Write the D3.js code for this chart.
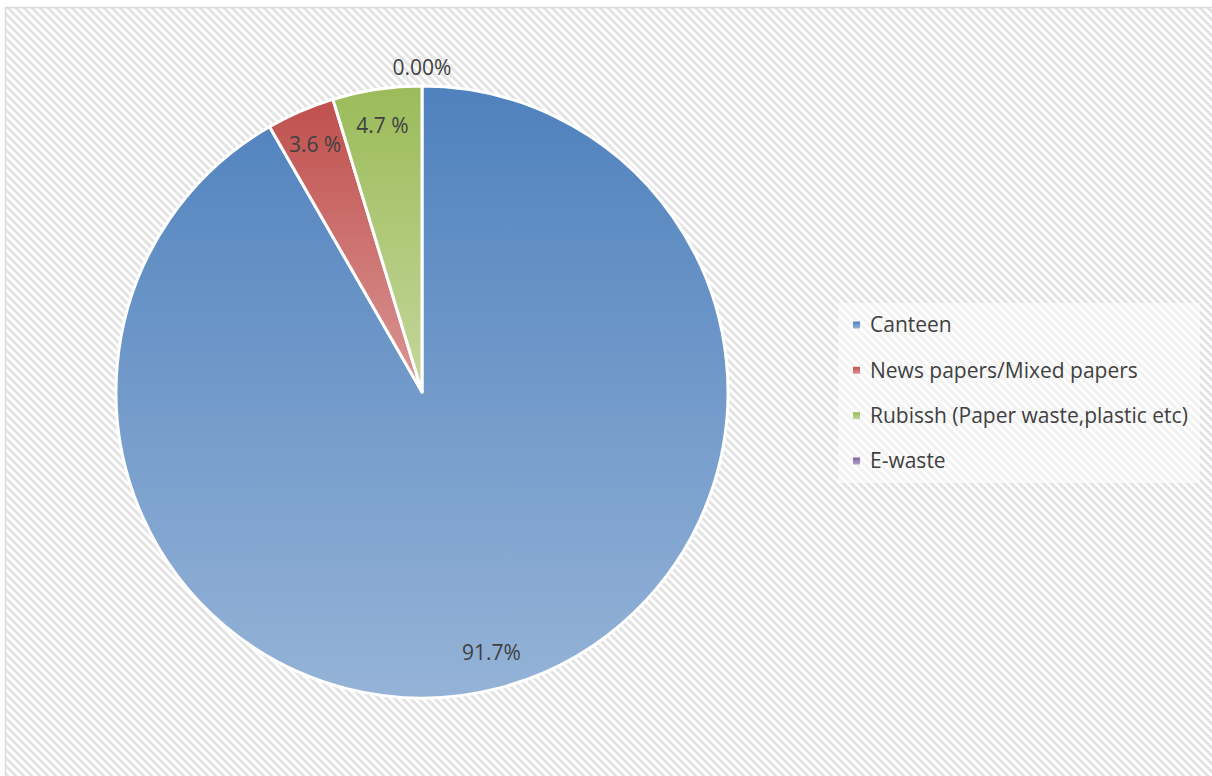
<!DOCTYPE html>
<html><head><meta charset="utf-8">
<script src="https://cdn.jsdelivr.net/npm/d3@7"></script>
<style>html,body{margin:0;padding:0;background:#fff;}svg{display:block;}</style>
</head><body>
<script>
const categories = ["Canteen", "News papers/Mixed papers", "Rubissh (Paper waste,plastic etc)", "E-waste"];
const values = [91.7, 3.6, 4.7, 0.0];
const valueLabels = ["91.7%", "3.6 %", "4.7 %", "0.00%"];
const darkColors = ["#4f81bd", "#c0504d", "#9bbb59", "#8064a2"];
const lightColors = ["#95b3d7", "#da9694", "#c4d79b", "#b1a0c7"];

const W = 1212, H = 776;
const svg = d3.select("body").append("svg").attr("width", W).attr("height", H);
const defs = svg.append("defs");

const pat = defs.append("pattern").attr("id", "hatch").attr("patternUnits", "userSpaceOnUse")
  .attr("width", 8).attr("height", 8);
pat.append("rect").attr("width", 8).attr("height", 8).attr("fill", "#ffffff");
pat.append("path").attr("d", "M-2,-2 L10,10 M-2,6 L2,10 M6,-2 L10,2")
  .attr("stroke", "#e3e3e3").attr("stroke-width", 3);

svg.append("rect").attr("x", 5.5).attr("y", 7.5).attr("width", W).attr("height", H)
  .attr("fill", "url(#hatch)").attr("stroke", "#d9d9d9").attr("stroke-width", 1.5);

categories.forEach((c, i) => {
  const g = defs.append("linearGradient").attr("id", "grad" + i)
    .attr("x1", 0).attr("y1", 0).attr("x2", 0).attr("y2", 1);
  g.append("stop").attr("offset", "0%").attr("stop-color", darkColors[i]);
  g.append("stop").attr("offset", "100%").attr("stop-color", lightColors[i]);
});

const cx = 422, cy = 392, R = 306;
const pie = d3.pie().sort(null).value(d => d.v).startAngle(0).endAngle(2 * Math.PI);
const data = pie(categories.map((c, i) => ({ c, v: values[i], i })));
const arc = d3.arc().innerRadius(0).outerRadius(R);
const g = svg.append("g").attr("transform", `translate(${cx},${cy})`);

g.selectAll("path.slice").data(data.filter(d => d.data.v > 0)).join("path")
  .attr("class", "slice")
  .attr("d", arc)
  .attr("fill", d => `url(#grad${d.data.i})`)
  .attr("stroke", "#ffffff").attr("stroke-width", 3).attr("stroke-linejoin", "round");

const labelArcIn = d3.arc().innerRadius(R * 0.88).outerRadius(R * 0.88);
const labelArcOut = d3.arc().innerRadius(R * 1.06).outerRadius(R * 1.06);
g.selectAll("text.lbl").data(data).join("text")
  .attr("class", "lbl")
  .attr("transform", d => {
    const p = d.data.v > 0 ? labelArcIn.centroid(d) : labelArcOut.centroid(d);
    return `translate(${p[0]},${p[1]})`;
  })
  .attr("text-anchor", "middle").attr("dy", "0.35em")
  .attr("font-family", "'Open Sans', Lato, sans-serif").attr("font-size", 21)
  .attr("fill", "#404040")
  .text((d, i) => valueLabels[i]);

const lg = svg.append("g").attr("transform", "translate(838,303)");
lg.append("rect").attr("width", 362).attr("height", 180).attr("fill", "#ffffff").attr("fill-opacity", 0.55);
const rowY = d3.scalePoint().domain(categories).range([22, 158]);
const items = lg.selectAll("g.item").data(categories).join("g").attr("class", "item")
  .attr("transform", d => `translate(0,${rowY(d)})`);
items.append("rect").attr("x", 15).attr("y", -3.5).attr("width", 7).attr("height", 7)
  .attr("fill", (d, i) => `url(#grad${i})`);
items.append("text").attr("x", 32).attr("dy", "0.35em")
  .attr("font-family", "'Open Sans', Lato, sans-serif").attr("font-size", 21)
  .attr("fill", "#404040").text(d => d);
</script>
</body></html>
